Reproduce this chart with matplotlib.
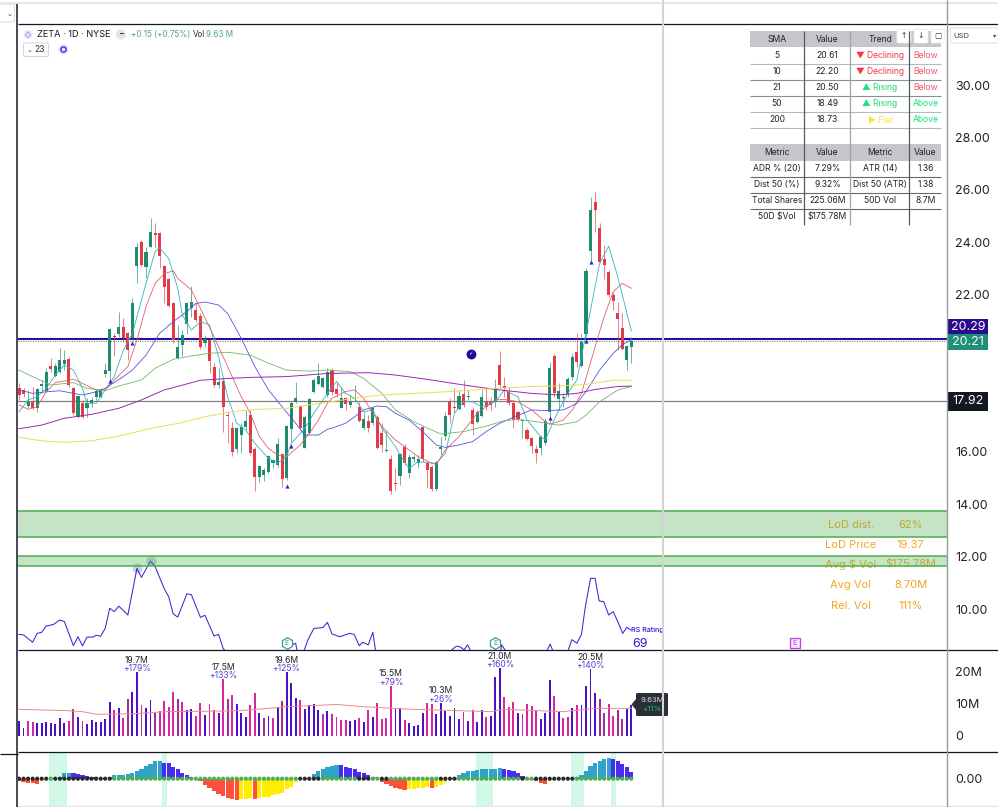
import matplotlib
matplotlib.use('Agg')
import matplotlib.pyplot as plt
from matplotlib.patches import Rectangle, FancyBboxPatch, Polygon, Circle

plt.rcParams['font.family'] = ['Inter', 'DejaVu Sans']

# candles, one entry per session
opens = [18.42, 18.36, 17.75, 17.91, 17.66, 18.51, 18.33, 19.29, 18.90, 19.03,
         19.35, 19.54, 18.45, 17.34, 17.85, 17.66, 17.88, 18.08, 18.08, 18.96,
         19.08, 20.43, 20.48, 20.78, 20.52, 20.33, 23.10, 24.01, 23.07, 23.83,
         24.34, 24.35, 23.09, 22.59, 21.69, 19.57, 20.08, 20.86, 21.50, 21.41,
         21.20, 20.17, 20.27, 19.22, 18.55, 18.70, 17.40, 16.92, 16.11, 16.64,
         16.96, 17.40, 16.11, 15.05, 15.11, 15.24, 15.56, 15.50, 15.90, 14.99,
         16.87, 17.91, 17.75, 16.16, 16.73, 18.29, 18.57, 18.49, 18.17, 19.12,
         18.40, 17.68, 18.04, 17.79, 18.00, 17.70, 16.90, 17.19, 17.09, 17.32,
         16.70, 16.03, 15.71, 14.82, 15.08, 16.20, 15.20, 15.71, 15.58, 16.96,
         15.58, 15.43, 14.57, 16.09, 16.62, 17.91, 17.72, 17.63, 18.19, 18.10,
         17.60, 17.12, 17.38, 17.91, 17.89, 17.91, 19.31, 18.51, 18.29, 17.85,
         17.51, 17.19, 16.83, 16.51, 16.12, 16.16, 16.32, 17.53, 19.66, 18.01,
         18.07, 18.19, 18.84, 19.80, 19.27, 20.50, 23.66, 25.52, 24.55, 23.36,
         22.85, 21.98, 21.28, 20.71, 19.50, 20.01]
closes = [18.17, 18.19, 17.91, 17.68, 18.40, 18.57, 19.05, 19.15, 19.29, 19.50,
          19.50, 18.55, 17.47, 18.13, 17.34, 17.88, 17.98, 18.32, 18.36, 19.11,
          20.67, 20.39, 20.78, 20.33, 19.88, 21.67, 23.80, 23.13, 23.64, 24.38,
          24.27, 23.49, 22.28, 21.58, 20.27, 19.99, 20.46, 21.67, 21.73, 21.03,
          20.01, 20.29, 19.46, 18.55, 18.68, 17.70, 17.35, 15.98, 16.90, 16.93,
          17.17, 15.97, 15.05, 15.46, 15.30, 15.84, 15.69, 16.28, 14.96, 16.98,
          17.85, 18.04, 16.92, 17.34, 18.01, 18.74, 18.89, 18.83, 19.06, 18.30,
          18.21, 18.04, 17.82, 17.91, 18.04, 17.19, 17.24, 16.90, 17.66, 16.13,
          16.26, 16.07, 14.52, 14.78, 15.92, 15.56, 15.81, 15.79, 15.71, 15.71,
          15.30, 14.58, 15.62, 16.20, 17.37, 17.40, 17.67, 18.14, 17.79, 18.14,
          17.05, 17.53, 18.08, 17.72, 17.79, 18.42, 18.55, 18.42, 17.85, 17.21,
          17.24, 17.22, 16.49, 16.23, 15.97, 16.58, 17.17, 19.18, 18.23, 18.32,
          18.10, 18.78, 19.63, 19.44, 20.18, 22.90, 25.23, 25.23, 23.26, 23.13,
          21.98, 21.77, 21.07, 19.92, 20.04, 20.21]
highs = [18.64, 18.45, 18.36, 18.49, 18.45, 18.74, 19.19, 19.57, 19.38, 19.95,
         19.88, 19.63, 18.49, 18.17, 17.98, 18.04, 18.10, 18.38, 18.42, 19.38,
         20.71, 20.52, 21.35, 21.09, 20.58, 21.86, 23.96, 24.08, 23.83, 24.91,
         24.72, 24.40, 23.13, 22.62, 21.73, 20.84, 20.65, 21.73, 22.33, 21.73,
         21.28, 20.46, 20.33, 19.38, 19.21, 18.80, 17.56, 17.15, 16.96, 17.09,
         17.59, 17.59, 16.17, 15.50, 15.37, 15.88, 15.71, 16.51, 15.94, 17.02,
         17.91, 18.68, 17.78, 17.40, 18.04, 18.80, 19.38, 18.87, 19.19, 19.19,
         18.68, 18.49, 18.10, 18.17, 18.55, 17.91, 17.53, 17.40, 17.72, 17.40,
         17.09, 16.83, 15.88, 15.37, 15.94, 16.29, 15.92, 15.88, 15.88, 16.98,
         15.62, 15.50, 15.66, 16.58, 17.53, 18.04, 18.42, 18.36, 18.74, 18.36,
         17.72, 17.60, 18.36, 18.46, 18.10, 18.78, 19.86, 18.87, 18.49, 17.98,
         17.60, 17.22, 16.89, 16.58, 16.26, 16.64, 17.28, 19.41, 19.76, 18.61,
         18.23, 18.87, 19.78, 20.52, 20.50, 23.00, 25.74, 25.93, 24.72, 23.89,
         22.94, 22.11, 21.73, 21.28, 20.08, 20.40]
lows = [17.98, 18.10, 17.66, 17.62, 17.53, 18.30, 18.30, 19.06, 18.87, 18.99,
        19.12, 18.49, 17.40, 17.28, 17.28, 17.34, 17.72, 17.98, 18.04, 18.87,
        18.68, 19.66, 20.39, 20.20, 19.50, 20.27, 22.45, 23.07, 22.62, 23.80,
        23.83, 23.00, 21.67, 21.54, 20.17, 19.53, 19.66, 20.50, 21.16, 20.97,
        19.91, 20.01, 19.02, 18.49, 18.42, 16.77, 16.35, 15.85, 15.94, 15.94,
        16.83, 15.88, 14.52, 14.86, 14.88, 15.18, 15.39, 15.43, 14.67, 14.92,
        16.39, 17.88, 16.83, 16.13, 16.67, 18.26, 18.54, 18.45, 18.10, 18.17,
        18.10, 17.66, 17.60, 17.72, 17.91, 17.15, 16.83, 16.77, 17.02, 16.09,
        16.00, 15.98, 14.39, 14.54, 14.73, 15.50, 15.01, 15.62, 15.37, 15.62,
        14.61, 14.52, 14.52, 15.88, 16.45, 17.09, 17.50, 17.60, 17.72, 17.98,
        16.64, 17.09, 17.34, 17.60, 17.60, 17.72, 18.42, 18.10, 17.79, 16.89,
        17.19, 16.51, 16.45, 15.94, 15.59, 15.88, 16.26, 17.09, 18.10, 17.60,
        17.72, 18.10, 18.74, 19.25, 19.25, 20.40, 23.30, 24.40, 23.19, 22.58,
        21.92, 21.41, 19.89, 19.89, 19.12, 19.38]

# moving averages, read at the bars where they bend
sma5_idx = [0, 2, 4, 6, 8, 10, 12, 14, 15, 17, 19, 21, 23, 25, 28, 30, 31, 33, 35, 36, 38, 40, 42, 44, 46,
            48, 50, 52, 55, 57, 59, 60, 63, 65, 68, 70, 72, 74, 76, 78, 80, 83, 84, 86, 88, 92, 94, 96, 98,
            100, 102, 105, 107, 110, 112, 115, 116, 119, 121, 123, 124, 126, 128, 130, 132, 135]
sma5_val = [17.53, 17.98, 18.10, 18.42, 18.93, 19.31, 19.12, 18.42, 17.85, 17.85, 18.36, 18.87, 19.88, 20.52,
            22.43, 23.64, 23.79, 23.38, 22.24, 21.22, 20.65, 20.97, 20.84, 19.63, 18.10, 17.09, 16.83, 16.32,
            15.75, 15.56, 15.81, 16.32, 16.89, 17.47, 18.23, 18.68, 18.23, 18.04, 17.53, 17.60, 16.90, 16.20,
            15.88, 15.37, 15.62, 15.56, 15.94, 17.47, 17.91, 17.91, 17.72, 17.91, 18.36, 18.10, 17.21, 16.58,
            16.45, 17.60, 18.23, 18.74, 19.63, 21.41, 23.19, 23.85, 22.68, 20.61]
sma10_idx = [0, 2, 4, 6, 8, 12, 14, 17, 19, 21, 24, 26, 28, 30, 32, 34, 35, 38, 40, 43, 46, 49, 51, 53, 55, 57,
             59, 62, 64, 66, 68, 69, 72, 74, 76, 78, 80, 83, 85, 88, 91, 92, 94, 97, 99, 101, 103, 105, 107,
             110, 113, 116, 117, 120, 122, 124, 127, 129, 131, 133, 135]
sma10_val = [17.79, 17.62, 17.72, 18.29, 18.64, 18.77, 18.61, 18.36, 18.36, 18.74, 19.25, 20.27, 21.54, 22.43,
             22.79, 22.91, 22.62, 22.18, 21.47, 20.39, 19.25, 18.10, 17.47, 16.58, 16.13, 15.88, 15.81, 16.26,
             16.70, 17.21, 17.85, 18.04, 18.30, 18.36, 18.04, 17.47, 16.96, 16.45, 16.20, 15.81, 15.56, 15.52,
             16.07, 16.58, 17.02, 17.47, 17.72, 17.98, 18.00, 17.91, 17.60, 17.15, 17.05, 17.21, 17.60, 18.23,
             20.00, 21.16, 22.11, 22.43, 22.24]
sma21_idx = [0, 3, 6, 9, 12, 14, 17, 19, 23, 25, 28, 31, 34, 37, 39, 41, 44, 46, 49, 52, 55, 58, 61, 63, 66, 68,
             69, 72, 74, 76, 79, 81, 83, 86, 89, 92, 94, 97, 100, 103, 106, 109, 113, 116, 120, 123, 125, 128,
             131, 133, 135]
sma21_val = [18.36, 18.23, 18.29, 18.33, 18.23, 18.17, 18.29, 18.42, 18.87, 19.12, 19.69, 20.52, 20.97, 21.35,
             21.66, 21.72, 21.60, 21.28, 20.33, 19.25, 18.36, 17.72, 17.09, 16.64, 16.64, 16.86, 16.90, 17.09,
             17.34, 17.60, 17.75, 17.72, 17.47, 17.21, 16.77, 16.26, 16.17, 16.26, 16.39, 16.77, 17.09, 17.32,
             17.60, 17.57, 17.60, 17.85, 18.30, 19.12, 19.76, 20.08, 20.29]
green_idx = [0, 3, 7, 12, 15, 19, 22, 27, 30, 34, 38, 42, 46, 51, 55, 59, 64, 68, 73, 76, 80, 83, 87, 91, 93,
             98, 103, 107, 110, 114, 119, 123, 125, 128, 132, 135]
green_val = [19.12, 18.87, 18.55, 18.64, 18.42, 18.33, 18.51, 18.74, 19.19, 19.53, 19.66, 19.76, 19.80, 19.69,
             19.38, 19.12, 19.08, 19.12, 19.06, 18.80, 18.23, 17.60, 17.15, 16.83, 16.68, 16.77, 16.98, 17.19,
             17.24, 17.15, 17.02, 17.15, 17.40, 17.91, 18.36, 18.49]
purple_idx = [0, 5, 10, 16, 22, 27, 32, 37, 40, 46, 51, 59, 68, 77, 83, 91, 98, 105, 113, 119, 123, 127, 132, 135]
purple_val = [16.88, 17.02, 17.28, 17.43, 17.66, 17.98, 18.36, 18.59, 18.73, 18.80, 18.84, 18.87, 18.99, 19.02,
              18.93, 18.74, 18.55, 18.38, 18.23, 18.17, 18.23, 18.38, 18.49, 18.51]
yellow_idx = [0, 5, 10, 16, 22, 29, 35, 41, 47, 51, 59, 68, 76, 83, 91, 98, 105, 113, 120, 125, 131, 135]
yellow_val = [16.55, 16.42, 16.36, 16.42, 16.60, 16.89, 17.08, 17.34, 17.53, 17.61, 17.66, 17.89, 18.10, 18.20,
              18.26, 18.33, 18.42, 18.49, 18.52, 18.57, 18.73, 18.73]

# RS line, plotted against the price scale. it runs off the bottom of the pane
rs_idx = [0, 1, 3, 4, 5, 6, 7.6, 9, 10, 12, 13, 14, 15, 16.4, 17, 18, 19, 20, 21, 22, 24, 26, 27, 29, 30, 32, 33,
          34, 35, 37, 38, 40, 41, 43, 44, 45, 46, 59, 59.3, 61, 61.4, 62.6, 63.7, 65, 67, 68, 69, 70.7, 72.9,
          73.9, 75, 75.8, 77, 78, 78.6, 79.1, 95, 95.4, 96.4, 97.3, 98.1, 98.9, 99.6, 106, 106.4, 107.3, 116.4,
          117.1, 117.7, 121, 121.9, 123, 124, 124.8, 126, 127, 127.9, 128.9, 130, 131, 132, 133.1, 134, 134.9]
rs_val = [9.03, 9.01, 8.73, 9.07, 9.11, 9.35, 9.41, 9.58, 9.52, 8.60, 8.94, 8.59, 8.93, 8.93, 9.00, 8.96, 9.26,
          10.03, 9.90, 10.11, 9.77, 11.55, 11.21, 11.83, 11.62, 10.79, 10.47, 9.81, 9.69, 10.58, 10.55, 9.68,
          9.76, 8.97, 9.03, 8.50, 8.30, 8.20, 8.56, 8.69, 8.30, 8.30, 8.82, 9.26, 9.29, 9.49, 9.05, 8.94, 9.07,
          9.03, 8.60, 8.73, 8.63, 9.11, 8.43, 8.20, 8.20, 8.44, 8.58, 8.55, 8.44, 8.63, 8.40, 8.20, 8.63, 8.40,
          8.40, 8.66, 8.40, 8.40, 8.83, 8.69, 9.03, 10.03, 11.17, 11.17, 10.31, 10.28, 9.77, 9.90, 9.52, 9.07,
          9.30, 9.20]
rs_high_idx = [26, 29]
rs_high_val = [11.55, 11.83]

# breakout triangles and the alert marker
tri_idx = [20, 25, 59, 60, 117, 125, 126]
tri_val = [18.70, 20.14, 14.69, 16.23, 17.30, 20.24, 23.23]
alert_idx = 99.6
alert_val = 19.75

zone_low = [12.75, 11.64]
zone_high = [13.74, 12.02]
rs_rating = '69'
# 18 and 20 sit behind the scale labels in the picture
price_ticks = [10, 12, 14, 16, 22, 24, 26, 28, 30]
line_blue = 20.29
line_last = 20.21
line_gray = 17.92

# volume in millions
volume = [4.6, 2.5, 4.5, 4.3, 3.9, 3.9, 4.2, 4.0, 3.7, 5.6, 4.0, 4.7, 8.3, 5.8, 4.7, 3.8, 4.9, 4.2, 4.2, 5.1,
          10.4, 8.0, 8.6, 5.5, 11.3, 13.6, 19.7, 9.4, 8.6, 11.1, 7.1, 7.6, 10.9, 8.8, 13.5, 11.3, 10.5, 8.0, 8.3, 6.2,
          10.2, 6.5, 9.8, 8.0, 7.0, 17.5, 11.3, 12.6, 9.8, 7.1, 5.8, 9.4, 13.2, 7.1, 5.5, 6.1, 5.5, 8.9, 10.8, 19.6,
          16.4, 11.6, 11.1, 8.3, 9.4, 9.8, 8.1, 6.8, 7.7, 6.8, 5.7, 4.8, 4.8, 4.6, 4.8, 5.5, 4.4, 8.1, 5.7, 10.2,
          5.3, 5.5, 15.5, 8.5, 8.6, 4.9, 4.0, 3.2, 3.4, 7.1, 10.1, 9.8, 6.7, 10.3, 7.8, 6.2, 8.6, 5.2, 7.5, 4.7,
          8.0, 4.3, 8.0, 5.8, 6.2, 18.2, 21.0, 12.0, 8.8, 10.4, 7.1, 6.8, 9.8, 9.3, 7.7, 5.1, 7.0, 17.2, 12.2, 7.5,
          5.6, 5.7, 8.6, 9.4, 9.5, 15.5, 20.5, 13.1, 11.4, 7.1, 9.7, 6.2, 8.1, 5.2, 8.3, 9.63]
volume_kind = ("bbmmbbbbbbb" "mdbmbbbbbb" "mbmdbbmbbd" "mmmmdmbbmm" "bmmbmdmbbb" "mmbdbmbdbb"
               "bmbbbbmbmm" "mmbbmbmbmm" "mmbbmbbbbm" "mbbbbbbmbm" "bbmbbbmmmb" "mmmmbbbmbm"
               "mbmbbbbddm" "mddbb")
vol_avg_idx = [0, 10.5, 14, 17, 25, 32.5, 41, 49, 59, 70, 76, 87, 104, 107, 120, 127, 135]
vol_avg_val = [8.2, 7.8, 7.5, 6.7, 6.8, 7.5, 7.6, 7.8, 9.0, 9.7, 9.0, 8.2, 7.5, 8.2, 7.5, 8.5, 8.5]
vol_ticks = [0, 10, 20]
vol_tick_labels = ['0', '10M', '20M']
vol_note_idx = [26, 45, 59, 82, 93, 106, 126]
vol_note_size = ['19.7M', '17.5M', '19.6M', '15.5M', '10.3M', '21.0M', '20.5M']
vol_note_pct = ['+179%', '+133%', '+125%', '+79%', '+26%', '+160%', '+140%']

# momentum histogram
momentum = [-8, -10, -12, -14, -15, -6, -3, 0, 2, 6, 16, 17, 16, 15, 12, 8, 6, 4, 2, 2,
            4, 10, 12, 12.5, 13, 16, 24, 30, 38, 44, 52, 53, 48, 46, 36, 28, 18, 12, 4, 0,
            -6, -20, -28, -38, -46, -52, -58, -62, -64, -62, -60, -59, -61, -58, -56, -55, -50, -46, -42, -30,
            -24, -10, -4, 0, 1, 14, 22, 28, 34, 38, 41, 40, 36, 32, 28, 20, 16, 10, 4, -2,
            -10, -16, -22, -28, -32, -33, -32, -30, -28, -27, -26, -28, -24, -20, -10, 0, 1, 10, 16, 22,
            24, 26, 28, 28.5, 29, 30, 31, 30, 26, 22, 16, 8, -2, -4, -8, -12, -16, -6, -4, -2,
            0, 1, 2, 6, 12, 24, 38, 48, 54, 58, 61, 60, 54, 44, 34, 20]
black_dots = [0, 1, 2, 3, 4, 5, 6, 8, 9, 10, 11, 12, 13, 14, 15, 16, 17, 18, 19, 20, 62, 63, 64, 65, 66,
              75, 76, 77, 80, 81, 93, 94, 95, 96, 111, 114, 115, 116, 117, 118, 119, 120, 121, 122]
squeeze_bands = [(6.6, 10.6), (31.5, 32.6), (100.8, 104.5), (121.7, 124.6), (130.5, 131.6)]
earnings_idx = [59, 105]
future_earnings_idx = 171

# table and panel text
sma_rows = [['5', '20.61', '▼ Declining', 'Below'], ['10', '22.20', '▼ Declining', 'Below'],
            ['21', '20.50', '▲ Rising', 'Below'], ['50', '18.49', '▲ Rising', 'Above'],
            ['200', '18.73', '► Flat', 'Above']]
metric_rows = [['ADR % (20)', '7.29%', 'ATR (14)', '1.36'], ['Dist 50 (%)', '9.32%', 'Dist 50 (ATR)', '1.38'],
               ['Total Shares', '225.06M', '50D Vol', '8.7M'], ['50D $Vol', '$175.78M', '', '']]
stat_names = ['LoD dist.', 'LoD Price', 'Avg $ Vol', 'Avg Vol', 'Rel. Vol']
stat_values = ['62%', '19.37', '$175.78M', '8.70M', '111%']

W, H = 998, 807
X0, STEP = 19.0, 4.536     # pixel of the first bar, pixels per bar
PANE_L, PANE_R = 18, 947


def pane(top, bottom, ymin, ymax):
    ax = fig.add_axes([PANE_L / W, 1 - bottom / H, (PANE_R - PANE_L) / W, (bottom - top) / H])
    ax.set_xlim((PANE_L - X0) / STEP, (PANE_R - X0) / STEP)
    ax.set_ylim(ymin, ymax)
    ax.patch.set_alpha(0)
    for s in ax.spines.values():
        s.set_visible(False)
    ax.set_xticks([])
    ax.yaxis.tick_right()
    ax.tick_params(axis='y', length=0, pad=5.8, labelsize=9, labelcolor='#222222')
    return ax


fig = plt.figure(figsize=(W / 100, H / 100), dpi=100)

# price pane
ax = pane(24, 650, 30 - (650 - 85) / 26.2, 30 + (85 - 24) / 26.2)
ax.set_yticks(price_ticks)
ax.set_yticklabels(['%.2f' % p for p in price_ticks])

for i in range(len(opens)):
    col = '#1e8a6e' if closes[i] >= opens[i] else '#e23b47'
    ax.vlines(i, lows[i], highs[i], color=col, lw=0.7, alpha=0.65, zorder=3)
    ax.bar(i, abs(closes[i] - opens[i]), bottom=min(opens[i], closes[i]), width=0.68, color=col, zorder=3)

ax.plot(sma5_idx, sma5_val, color='#35b4c0', lw=0.6, zorder=4)
ax.plot(sma10_idx, sma10_val, color='#e5606a', lw=0.6, zorder=4)
ax.plot(sma21_idx, sma21_val, color='#5a50e0', lw=0.6, zorder=4)
ax.plot(green_idx, green_val, color='#74b567', lw=0.6, zorder=4)
ax.plot(purple_idx, purple_val, color='#9c27b0', lw=0.7, zorder=4)
ax.plot(yellow_idx, yellow_val, color='#eedb5a', lw=0.7, zorder=4)

ax.axhline(line_last, color='#1e8a6e', lw=0.7, ls=(0, (1, 1.5)), zorder=2)
ax.axhline(line_blue, color='#2b0a9f', lw=1.5, zorder=2)
ax.axhline(line_gray, color='#808080', lw=0.9, zorder=2)

ax.scatter(tri_idx, tri_val, marker='^', s=9, color='#3d1fd0', zorder=5, linewidths=0)
ax.scatter([alert_idx], [alert_val], s=50, color='#23089a', zorder=5, linewidths=0)
ax.text(alert_idx, alert_val, '✓', color='white', fontsize=4, ha='center', va='center', zorder=6,
        family='DejaVu Sans')

# RS line and the text under the green zones
ax.plot(rs_idx, rs_val, color='#4a20d0', lw=0.75, zorder=3)
ax.scatter(rs_high_idx, rs_high_val, s=55, color='#9cc4ea', alpha=0.65, zorder=2, linewidths=0)
ax.text(134.9, 9.19, 'RS Rating', color='#3a12d0', fontsize=5.2, va='center', ha='left', zorder=5, fontweight='medium')
ax.text(136.9, 8.67, rs_rating, color='#3a12d0', fontsize=9, va='center', ha='center', zorder=5)

# price zones sit over the stats, that is why the text goes olive
for lo, hi in zip(zone_low, zone_high):
    ax.axhspan(lo, hi, facecolor='#4caf50', alpha=0.33, edgecolor='none', zorder=6)
    ax.axhline(lo, color='#4caf50', lw=1.1, zorder=7)
    ax.axhline(hi, color='#4caf50', lw=1.1, zorder=7)

# volume pane
ax_vol = pane(650, 752, -16 / 3.25, 86 / 3.25)
ax_vol.set_yticks(vol_ticks)
ax_vol.set_yticklabels(vol_tick_labels)
vol_colors = {'b': '#4a12c4', 'm': '#d6269e', 'd': '#a0308f'}
ax_vol.bar(range(len(volume)), volume, width=0.42, color=[vol_colors[k] for k in volume_kind], zorder=3)
ax_vol.plot(vol_avg_idx, vol_avg_val, color='#ea8d84', lw=0.7, zorder=4)
for i, size, pct in zip(vol_note_idx, vol_note_size, vol_note_pct):
    ax_vol.annotate(pct, (i, volume[i]), xytext=(0, -0.8), textcoords='offset points', ha='center', va='bottom',
                    fontsize=6.2, color='#5a3fd8', zorder=5)
    ax_vol.annotate(size, (i, volume[i]), xytext=(0, 5.2), textcoords='offset points', ha='center', va='bottom',
                    fontsize=6.2, color='#222222', zorder=5)

# squeeze pane, 1 unit is a third of a pixel
ax_sq = pane(752, 807, -(807 - 778.7) * 3, (778.7 - 752) * 3)
ax_sq.set_yticks([0])
ax_sq.set_yticklabels(['0.00'])
for a, b in squeeze_bands:
    ax_sq.axvspan(a, b, color='#d2f8e8', lw=0, zorder=1)
bar_cols = []
for i, v in enumerate(momentum):
    prev = momentum[i - 1] if i else v
    if v >= 0:
        bar_cols.append('#2fa3c8' if v >= prev else '#4a2bf0')
    else:
        bar_cols.append('#ff4f3f' if v <= prev else '#ffee00')
ax_sq.bar(range(len(momentum)), momentum, width=0.92, color=bar_cols, zorder=3)
dot_cols = ['#2a2a2a' if i in black_dots else '#4caf50' for i in range(len(momentum))]
ax_sq.scatter(range(len(momentum)), [0] * len(momentum), s=9, color=dot_cols, zorder=4, linewidths=0)

# chrome, tables and labels are drawn in pixel space on top
top = fig.add_axes([0, 0, 1, 1])
top.set_xlim(0, W)
top.set_ylim(H, 0)
top.axis('off')
top.patch.set_alpha(0)


def hline(y, x1, x2, col='#131722', lw=1.0):
    top.plot([x1, x2], [y, y], color=col, lw=lw, solid_capstyle='butt')


def vline(x, y1, y2, col='#131722', lw=1.0):
    top.plot([x, x], [y1, y2], color=col, lw=lw, solid_capstyle='butt')


hline(2.5, 0, 998, '#e8e8e8', 1.5)
vline(17.5, 4, 807, lw=1.1)
hline(24, 18, 998, lw=0.9)
hline(650, 18, 998, lw=0.9)
hline(752, 18, 998, lw=0.9)
hline(754, 0, 18, lw=0.9)
hline(805.5, 18, 998, '#e4e4e4', 1.0)
vline(663.5, 0, 807, '#d4d4d8', 1.5)
vline(947.5, 0, 807, '#9a9a9a', 1.0)

top.add_patch(FancyBboxPatch((-6, 4), 20.5, 18, boxstyle='round,pad=0,rounding_size=2', fc='white', ec='#dddddd', lw=0.8))
top.text(10, 14, '⌄', fontsize=5, ha='center', va='center', color='#333333', family='DejaVu Sans')

# legend line
top.add_patch(Circle((28, 34.5), 4.5, fc='#ece6fb', ec='none'))
top.text(28, 34.5, '◇', fontsize=5.5, ha='center', va='center', color='#6a3fd8', family='DejaVu Sans')
top.text(37, 34.5, 'ZETA · 1D · NYSE', fontsize=6.6, va='center', color='#131722')
top.add_patch(Circle((121, 34.5), 5, fc='#e4e4e4', ec='none'))
top.text(121, 34.5, '━', fontsize=4.5, ha='center', va='center', color='#333333', family='DejaVu Sans')
top.text(131, 34.5, '+0.15 (+0.75%)', fontsize=5.8, va='center', color='#4aa38f')
top.text(193, 34.5, 'Vol', fontsize=5.8, va='center', color='#333333')
top.text(206, 34.5, '9.63 M', fontsize=5.8, va='center', color='#4aa38f')
top.add_patch(FancyBboxPatch((23.5, 43), 25, 13.5, boxstyle='round,pad=0,rounding_size=1.5', fc='white', ec='#d8d8d8', lw=0.8))
top.text(30, 49.5, '⌄', fontsize=5, ha='center', va='center', color='#333333', family='DejaVu Sans')
top.text(40, 49.5, '23', fontsize=6.2, ha='center', va='center', color='#333333')
top.add_patch(Circle((63.5, 49.5), 5, fc='#e6dcfa', ec='none'))
top.add_patch(Circle((63.5, 49.5), 2.6, fc='none', ec='#6a2fe0', lw=1.1))

# SMA and metric tables
col_x = [750, 804.5, 850.5, 909.5, 941]
col_mid = [777, 827.5, 880, 925.5]
trend_col = {'▼': '#f23645', '▲': '#19e07a', '►': '#f5e642'}
pos_col = {'Below': '#f2566a', 'Above': '#19e07a'}
for y1, y2 in [(31, 47), (144, 160.5)]:
    top.add_patch(Rectangle((col_x[0], y1), col_x[-1] - col_x[0], y2 - y1, fc='#c4c6cc', ec='none'))
for j, label in enumerate(['SMA', 'Value', 'Trend', '']):
    top.text(col_mid[j], 39.5, label, fontsize=6.2, ha='center', va='center', color='#222222')
for j, label in enumerate(['Metric', 'Value', 'Metric', 'Value']):
    top.text(col_mid[j], 152.5, label, fontsize=6.2, ha='center', va='center', color='#222222')
row_y = [55, 71, 87.5, 103.5, 119.5]
for y, row in zip(row_y, sma_rows):
    top.text(col_mid[0], y, row[0], fontsize=6.2, ha='center', va='center', color='#222222')
    top.text(col_mid[1], y, row[1], fontsize=6.2, ha='center', va='center', color='#222222')
    top.text(col_mid[2], y, row[2], fontsize=6.2, ha='center', va='center', color=trend_col[row[2][0]])
    top.text(col_mid[3], y, row[3], fontsize=6.2, ha='center', va='center', color=pos_col[row[3]])
metric_y = [168.5, 184.5, 200.5, 216.5]
for y, row in zip(metric_y, metric_rows):
    for j, cell in enumerate(row):
        top.text(col_mid[j], y, cell, fontsize=6.2, ha='center', va='center', color='#222222')
for y in [63.5, 79.5, 96, 112, 127.5]:
    hline(y, col_x[0], col_x[-1], '#8a8f98' if y in (79.5, 96) else '#b5bac2', 0.8)
for y in [176.5, 192.5, 208.5]:
    hline(y, col_x[0], col_x[-1], '#666a72', 0.8)
vline(col_x[1], 31, 225, '#555a62', 0.9)
vline(col_x[2], 31, 225, '#a0a4aa', 0.9)
vline(col_x[3], 31, 225, '#555a62', 0.9)

# little scroll buttons over the table
for bx, glyph in [(897, '↑'), (914, '↓'), (931, '▢')]:
    top.add_patch(FancyBboxPatch((bx, 29), 14, 14, boxstyle='round,pad=0,rounding_size=1.5', fc='white', ec='#eeeeee', lw=0.6))
    top.text(bx + 7, 35.5, glyph, fontsize=5.5, ha='center', va='center', color='#333333', family='DejaVu Sans')

# USD box
top.add_patch(FancyBboxPatch((950.5, 28), 60, 15, boxstyle='round,pad=0,rounding_size=1.5', fc='white', ec='#e4e4e4', lw=0.8))
top.text(953, 35.5, 'USD', fontsize=5.5, va='center', color='#444444')
top.text(995, 35.5, '▾', fontsize=4.5, ha='center', va='center', color='#444444', family='DejaVu Sans')

# price labels on the scale
for y1, y2, col, txt in [(319, 334, '#2b0a8f', '20.29'), (334, 350, '#1f8f78', '20.21'), (392, 411, '#131722', '17.92')]:
    top.add_patch(Rectangle((948, y1), 40, y2 - y1, fc=col, ec='none'))
    top.text(968, (y1 + y2) / 2, txt, fontsize=9, ha='center', va='center', color='white')

# volume tooltip
top.add_patch(Polygon([[636, 699], [631.5, 704.5], [636, 710]], fc='#2a2e39', ec='none'))
top.add_patch(FancyBboxPatch((636, 693), 32, 23, boxstyle='round,pad=0,rounding_size=1.5', fc='#2a2e39', ec='none'))
top.text(652, 700, '9.63M', fontsize=5.6, ha='center', va='center', color='#d8d8d8')
top.text(652, 709, '+11%', fontsize=5.6, ha='center', va='center', color='#1fc77a')

# earnings flags, placed on the price pane
for i in earnings_idx:
    ax.scatter([i], [8.72], marker='h', s=70, fc='white', ec='#3a9a92', lw=0.9, zorder=8)
    ax.text(i, 8.72, 'E', fontsize=5, ha='center', va='center', color='#3a9a92', zorder=9)
ax.scatter([future_earnings_idx], [8.72], marker='s', s=50, fc='#f6e6fb', ec='#c23fe0', lw=0.9, zorder=8)
ax.text(future_earnings_idx, 8.72, 'E', fontsize=5, ha='center', va='center', color='#c23fe0', zorder=9)

# stats block
stat_y = [13.22, 12.46, 11.70, 10.90, 10.13]
for y, name, val in zip(stat_y, stat_names, stat_values):
    ax.text(183.4, y, name, fontsize=8, ha='center', va='center', color='#f5a623', zorder=5)
    ax.text(196.6, y, val, fontsize=8, ha='center', va='center', color='#f5a623', zorder=5)

fig.savefig('out.png', dpi=100)
